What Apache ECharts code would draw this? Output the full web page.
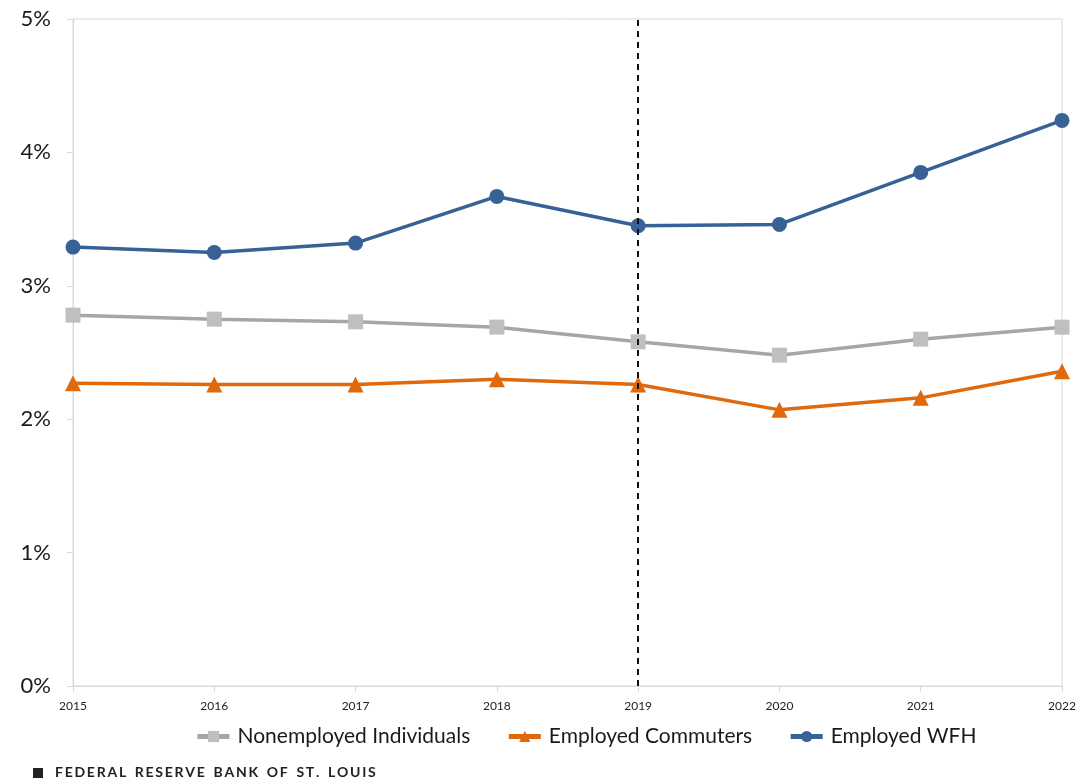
<!DOCTYPE html>
<html>
<head>
<meta charset="utf-8">
<script src="https://cdn.jsdelivr.net/npm/echarts@6/dist/echarts.min.js"></script>
<style>
  html, body { margin: 0; padding: 0; background: #fff; }
  #chart { width: 1079px; height: 783px; }
</style>
</head>
<body>
<div id="chart"></div>
<script>
const years = ["2015", "2016", "2017", "2018", "2019", "2020", "2021", "2022"];
const nonemployed = [2.78, 2.75, 2.73, 2.69, 2.58, 2.48, 2.60, 2.69];
const commuters = [2.27, 2.26, 2.26, 2.30, 2.26, 2.07, 2.16, 2.36];
const wfh = [3.29, 3.25, 3.32, 3.67, 3.45, 3.46, 3.85, 4.24];
const markYear = "2019";

const font = "Lato, 'Noto Sans', sans-serif";

// spaced-out caps for the footer
const footer = "FEDERAL RESERVE BANK OF ST. LOUIS"
  .split("")
  .map((c) => (c === " " ? " \u2009" : c))
  .join("\u2009");

const chart = echarts.init(document.getElementById("chart"));

chart.setOption({
  animation: false,
  textStyle: { fontFamily: font },
  grid: {
    left: 73,
    right: 17,
    top: 19,
    bottom: 97,
    show: true,
    borderColor: "#d9d9d9",
    borderWidth: 1,
  },
  legend: {
    bottom: 31,
    left: 190,
    itemWidth: 32,
    itemHeight: 14,
    itemGap: 36,
    lineStyle: { width: 5 },
    textStyle: { fontSize: 21, color: "#1a1a1a", fontFamily: font, padding: [0, 0, 0, 3] },
    data: ["Nonemployed Individuals", "Employed Commuters", "Employed WFH"],
  },
  graphic: [
    {
      type: "rect",
      left: 33,
      top: 768,
      shape: { width: 10, height: 10 },
      style: { fill: "#222" },
    },
    {
      type: "text",
      left: 55,
      top: 765,
      style: {
        text: footer,
        fontSize: 14,
        fontWeight: "bold",
        fill: "#222",
        fontFamily: font,
      },
    },
  ],
  xAxis: {
    type: "category",
    data: years,
    boundaryGap: false,
    axisLine: { lineStyle: { color: "#d9d9d9", width: 1 } },
    axisTick: { show: true, alignWithLabel: true, length: 6, lineStyle: { color: "#d9d9d9" } },
    axisLabel: { color: "#222", fontSize: 12, margin: 14, fontFamily: font },
    splitLine: { show: false },
  },
  yAxis: {
    type: "value",
    min: 0,
    max: 5,
    interval: 1,
    axisLine: { show: true, lineStyle: { color: "#d9d9d9", width: 1 } },
    axisTick: { show: true, length: 6, lineStyle: { color: "#d9d9d9" } },
    axisLabel: { color: "#1a1a1a", fontSize: 22, margin: 22, formatter: "{value}%", fontFamily: font },
    splitLine: { show: false },
  },
  series: [
    {
      name: "Nonemployed Individuals",
      type: "line",
      data: nonemployed,
      symbol: "rect",
      symbolSize: 15,
      lineStyle: { color: "#a6a6a6", width: 3.5 },
      itemStyle: { color: "#bfbfbf" },
      z: 3,
    },
    {
      name: "Employed Commuters",
      type: "line",
      data: commuters,
      symbol: "triangle",
      symbolSize: 16,
      lineStyle: { color: "#e0690d", width: 3.5 },
      itemStyle: { color: "#e0690d" },
      z: 3,
    },
    {
      name: "Employed WFH",
      type: "line",
      data: wfh,
      symbol: "circle",
      symbolSize: 15,
      lineStyle: { color: "#386196", width: 3.5 },
      itemStyle: { color: "#386196" },
      z: 3,
      markLine: {
        silent: true,
        symbol: "none",
        label: { show: false },
        lineStyle: { color: "#111", type: [6, 5], width: 2 },
        data: [{ xAxis: markYear }],
        z: 5,
      },
    },
  ],
});
</script>
</body>
</html>
